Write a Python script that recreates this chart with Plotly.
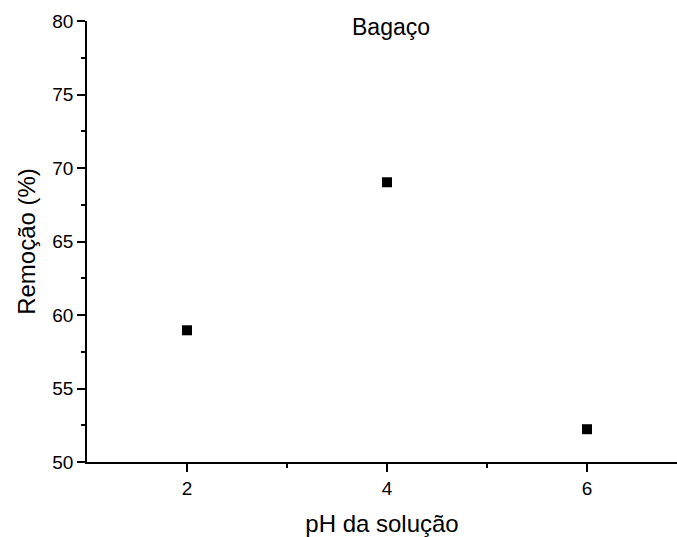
import plotly.graph_objects as go

ph_values = [2, 4, 6]
removal_pct = [58.96, 69.03, 52.23]
x_ticks = [2, 4, 6]
y_ticks = [50, 55, 60, 65, 70, 75, 80]

FONT = "Liberation Sans, Arial, sans-serif"

fig = go.Figure()
fig.add_trace(go.Scatter(
    x=ph_values, y=removal_pct, mode="markers",
    marker=dict(symbol="square", size=10, color="black"),
    showlegend=False,
))

fig.update_layout(
    width=677, height=537,
    margin=dict(l=87, r=0, t=21, b=75),
    plot_bgcolor="white", paper_bgcolor="white",
    font=dict(family=FONT, size=19, color="black"),
    annotations=[dict(
        text="Bagaço", xref="paper", yref="paper", x=0.516, y=0.986,
        xanchor="center", yanchor="middle", showarrow=False,
        font=dict(family=FONT, size=23, color="black"),
    )],
)

fig.update_xaxes(
    range=[1, 6.9], tickvals=x_ticks, ticktext=[str(v) for v in x_ticks],
    showgrid=False, zeroline=False,
    showline=True, linecolor="black", linewidth=1.5,
    ticks="outside", ticklen=8, tickwidth=1.5, tickcolor="black",
    minor=dict(tickvals=[3, 5], ticks="outside", ticklen=4, tickwidth=1.5, tickcolor="black"),
    tickfont=dict(size=19),
    title=dict(text="pH da solução", font=dict(size=24), standoff=18),
)
fig.update_yaxes(
    range=[50, 80], tickvals=y_ticks,
    showgrid=False, zeroline=False,
    showline=True, linecolor="black", linewidth=1.5,
    ticks="outside", ticklen=8, tickwidth=1.5, tickcolor="black",
    minor=dict(tickvals=[52.5, 57.5, 62.5, 67.5, 72.5, 77.5], ticks="outside", ticklen=4, tickwidth=1.5, tickcolor="black"),
    tickfont=dict(size=19),
    title=dict(text="Remoção (%)", font=dict(size=24), standoff=10),
)

fig.write_html(
    "out.html",
    config={"displayModeBar": False},
    post_script="document.body.style.margin='0';document.body.style.overflow='hidden';",
)
